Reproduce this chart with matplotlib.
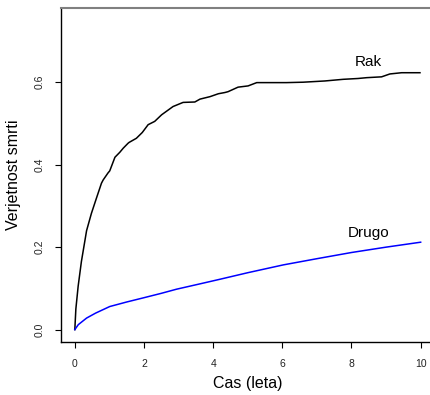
import matplotlib
matplotlib.use("Agg")
from matplotlib import pyplot as plt

plt.rcParams['font.family'] = ['Liberation Sans', 'DejaVu Sans']

# kumulativna incidenca: rak
rak_t = [0.0, 0.03, 0.096, 0.19, 0.34, 0.48, 0.63, 0.77, 0.82, 0.96, 1.01,
         1.16, 1.30, 1.40, 1.54, 1.57, 1.78, 1.95, 2.12, 2.31, 2.51, 2.84,
         3.13, 3.47, 3.62, 3.91, 4.15, 4.34, 4.43, 4.72, 5.01, 5.26, 5.60,
         6.12, 6.60, 7.23, 7.76, 8.19, 8.44, 8.87, 9.11, 9.45, 9.70, 9.98]
rak_p = [0.0, 0.05, 0.105, 0.165, 0.24, 0.282, 0.32, 0.355, 0.363, 0.380, 0.385,
         0.418, 0.430, 0.440, 0.452, 0.454, 0.464, 0.478, 0.497, 0.505, 0.521, 0.541,
         0.551, 0.552, 0.559, 0.565, 0.572, 0.575, 0.577, 0.588, 0.591, 0.599, 0.599,
         0.599, 0.600, 0.603, 0.607, 0.609, 0.611, 0.613, 0.620, 0.623, 0.623, 0.623]

# kumulativna incidenca: drugo
drugo_t = [0.0, 0.1, 0.34, 0.6, 1.01, 1.5, 1.98, 2.5, 2.94, 3.62, 4.19,
           5.0, 6.03, 7.0, 8.0, 9.0, 10.0]
drugo_p = [0.0, 0.012, 0.028, 0.040, 0.056, 0.067, 0.077, 0.088, 0.098, 0.111, 0.122,
           0.138, 0.157, 0.172, 0.187, 0.200, 0.212]

x_ticks = [0, 2, 4, 6, 8, 10]
y_ticks = [0.0, 0.2, 0.4, 0.6]
y_tick_labels = ['0.0', '0.2', '0.4', '0.6']

fig = plt.figure(figsize=(4.31, 3.95), dpi=100)
ax = fig.add_axes([0.1415, 0.1342, 0.8666, 0.8456])

ax.plot(rak_t, rak_p, color='black', lw=1.1)
ax.plot(drugo_t, drugo_p, color='blue', lw=1.1)
ax.text(8.5, 0.648, 'Rak', ha='center', va='center', fontsize=11)
ax.text(8.5, 0.234, 'Drugo', ha='center', va='center', fontsize=11)

ax.set_xlim(-0.4, 10.4)
ax.set_ylim(-0.03, 0.78)
ax.set_xticks(x_ticks)
ax.set_yticks(y_ticks)
ax.set_yticklabels(y_tick_labels, rotation=90, va='center')
ax.tick_params(axis='both', direction='out', length=4, width=0.8, labelsize=7.5,
               labelcolor='#222222')
ax.tick_params(axis='x', pad=8)
ax.tick_params(axis='y', pad=8)

for side in ['left', 'bottom']:
    ax.spines[side].set_color('black')
    ax.spines[side].set_linewidth(1.0)
ax.spines['top'].set_color('#808080')
ax.spines['top'].set_linewidth(1.5)
ax.spines['right'].set_visible(False)

ax.set_xlabel('Cas (leta)', fontsize=11.5)
ax.xaxis.set_label_coords(0.5007, -0.123)
ax.xaxis.label.set_va('center')
ax.set_ylabel('Verjetnost smrti', fontsize=11.5)
ax.yaxis.set_label_coords(-0.1258, 0.5)
ax.yaxis.label.set_va('center')

fig.savefig('out.png', dpi=100)
